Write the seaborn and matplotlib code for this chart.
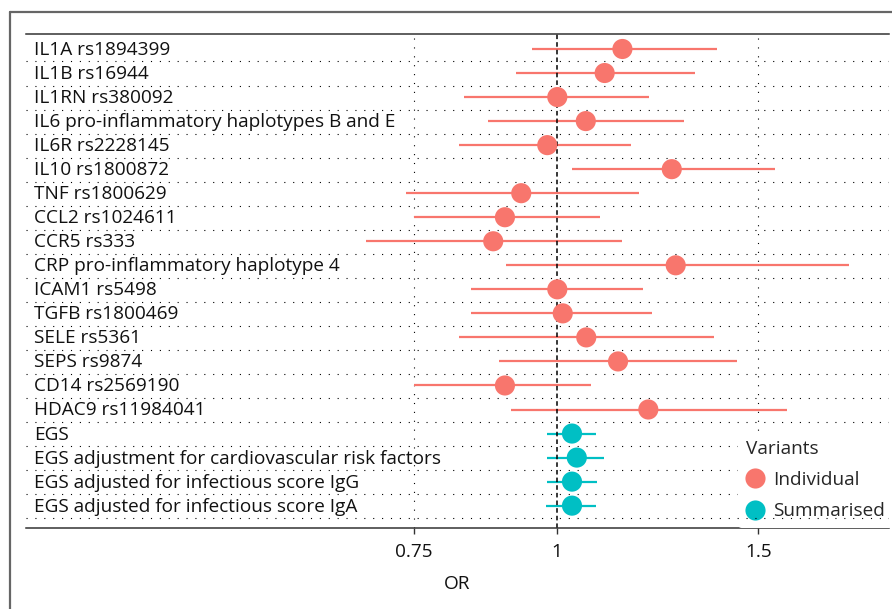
import numpy as np
import pandas as pd
import matplotlib
matplotlib.use("Agg")
import matplotlib.pyplot as plt
from matplotlib.lines import Line2D
from matplotlib.ticker import NullLocator, FixedLocator, FixedFormatter
import seaborn as sns

labels = ["IL1A rs1894399", "IL1B rs16944", "IL1RN rs380092",
          "IL6 pro-inflammatory haplotypes B and E", "IL6R rs2228145",
          "IL10 rs1800872", "TNF rs1800629", "CCL2 rs1024611", "CCR5 rs333",
          "CRP pro-inflammatory haplotype 4", "ICAM1 rs5498", "TGFB rs1800469",
          "SELE rs5361", "SEPS rs9874", "CD14 rs2569190", "HDAC9 rs11984041",
          "EGS", "EGS adjustment for cardiovascular risk factors",
          "EGS adjusted for infectious score IgG",
          "EGS adjusted for infectious score IgA"]
odds = [1.141, 1.101, 1.001, 1.060, 0.981, 1.260, 0.931, 0.901, 0.880, 1.270,
        1.001, 1.012, 1.061, 1.131, 0.901, 1.202, 1.031, 1.041, 1.031, 1.031]
lower = [0.951, 0.921, 0.830, 0.871, 0.822, 1.031, 0.739, 0.751, 0.681, 0.902,
         0.841, 0.841, 0.821, 0.890, 0.751, 0.912, 0.981, 0.981, 0.980, 0.979]
upper = [1.381, 1.321, 1.203, 1.291, 1.160, 1.550, 1.180, 1.091, 1.141, 1.800,
         1.190, 1.210, 1.371, 1.438, 1.072, 1.589, 1.081, 1.100, 1.084, 1.083]
variants = ["Individual"] * 16 + ["Summarised"] * 4
tick_vals = [0.75, 1, 1.5]
tick_text = ["0.75", "1", "1.5"]

df = pd.DataFrame({"label": labels, "OR": odds, "lo": lower, "hi": upper,
                   "Variants": variants})
df["pos"] = np.arange(len(df))

palette = {"Individual": "#F8766D", "Summarised": "#00BFC4"}
FONT = "Open Sans"
FS = 13.7

sns.set_style("white")
plt.rcParams["font.family"] = [FONT, "DejaVu Sans"]

fig = plt.figure(figsize=(8.92, 6.09), dpi=100)
W, H = 892, 609
ax = fig.add_axes([26 / W, 1 - 528 / H, (889 - 26) / W, (528 - 33.6) / H])

# confidence intervals
ax.hlines(df["pos"], df["lo"], df["hi"],
          colors=[palette[v] for v in df["Variants"]], lw=1.6, zorder=2)
sns.scatterplot(data=df, x="OR", y="pos", hue="Variants", palette=palette,
                s=210, edgecolor="none", linewidth=0, legend=False, ax=ax,
                zorder=3)

ax.set_xscale("log")
ax.set_xlim(0.344, 1.95)
ax.set_ylim(len(df) - 1 + 0.93, -0.64)

# row separators and reference lines (last one stays above the legend box)
last = df["pos"].iloc[-1]
for p in df["pos"]:
    ax.axhline(p + 0.52, color="black", lw=0.8, ls=(0, (1, 7)),
               zorder=6 if p == last else 1)
for v in [0.75, 1.5]:
    ax.axvline(v, color="black", lw=0.8, ls=(0, (1, 7)), zorder=1)
ax.axvline(1, color="black", lw=1.1, ls=(0, (3, 2)), zorder=2.5)

# row labels inside the panel
for p, t in zip(df["pos"], df["label"]):
    ax.text(0.0095, p + 0.04, t, transform=ax.get_yaxis_transform(),
            fontsize=FS, va="center", ha="left", color="#111111")

ax.xaxis.set_major_locator(FixedLocator(tick_vals))
ax.xaxis.set_major_formatter(FixedFormatter(tick_text))
ax.xaxis.set_minor_locator(NullLocator())
ax.set_yticks([])
ax.tick_params(axis="x", bottom=True, length=4, width=1, color="#333333",
               labelsize=FS, pad=7, labelcolor="#111111")
ax.set_xlabel("OR", fontsize=FS, labelpad=10, color="#111111")
ax.set_ylabel("")

for side in ["left", "right"]:
    ax.spines[side].set_visible(False)
for side in ["top", "bottom"]:
    ax.spines[side].set_color("#333333")
    ax.spines[side].set_linewidth(1.1)

handles = [Line2D([], [], marker="o", ls="", ms=14.5, color=palette[k],
                  markeredgewidth=0) for k in palette]
leg = ax.legend(handles, list(palette), title="Variants", loc="upper left",
                bbox_to_anchor=(738 / W, 1 - 432 / H),
                bbox_transform=fig.transFigure, frameon=True, fontsize=FS,
                title_fontsize=FS, handlelength=1.0, handletextpad=0.46,
                labelspacing=0.7, borderaxespad=0, borderpad=0.4)
leg.get_frame().set_facecolor("white")
leg.get_frame().set_edgecolor("none")
leg.get_frame().set_alpha(1)
leg._legend_box.align = "left"
leg.set_zorder(5)

# outer frame
fig.add_artist(Line2D([10 / W, 10 / W], [0, 1 - 12 / H], color="#666666",
                      lw=1.6, transform=fig.transFigure))
fig.add_artist(Line2D([10 / W, 1], [1 - 12 / H, 1 - 12 / H], color="#666666",
                      lw=1.6, transform=fig.transFigure))

fig.savefig("out.png", dpi=100)
